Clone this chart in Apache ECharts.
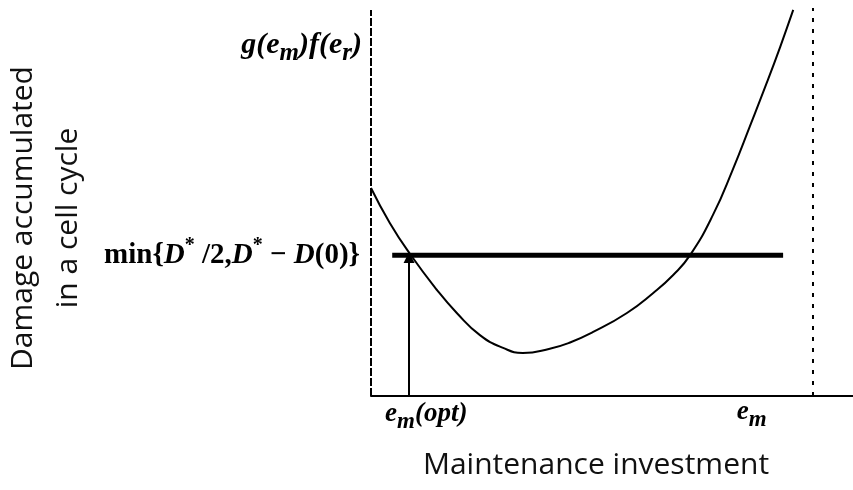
<!DOCTYPE html>
<html lang="en">
<head>
    <meta charset="UTF-8">
    <title>Maintenance investment</title>
    <script src="https://cdn.jsdelivr.net/npm/echarts@6/dist/echarts.min.js"></script>
    <style>
        body { margin: 0; background: #fff; }
        #chart { width: 853px; height: 490px; }
    </style>
</head>
<body>
    <div id="chart"></div>
    <script>
        // damage curve (x = maintenance investment, y = damage)
        const curveX = [0, 0.39, 0.81, 1.37, 1.78, 2.26, 2.74, 3.15, 3.71, 4.13, 4.61, 5.31, 5.85, 6.27, 6.62, 7.10, 7.51, 7.86, 8.22, 8.49, 8.76];
        const curveY = [5.36, 4.46, 3.66, 2.73, 2.14, 1.57, 1.24, 1.11, 1.22, 1.38, 1.65, 2.14, 2.65, 3.12, 3.63, 4.68, 5.85, 6.95, 8.10, 9.00, 9.95];

        // threshold min{D*/2, D*-D(0)}
        const thresholdY = 3.63;
        const thresholdX = [0.44, 8.55];

        // optimum and limit of maintenance
        const optX = 0.79;
        const limitX = 9.17;
        const emTickX = 7.9;
        const gTopY = 9.05;

        const chart = echarts.init(document.getElementById('chart'));

        const black = '#000';
        const serif = 'Liberation Serif';

        chart.setOption({
            animation: false,
            grid: { left: 371, right: 0, top: 8, bottom: 94 },
            xAxis: {
                type: 'value', min: 0, max: 10,
                axisLine: { show: true, lineStyle: { color: black, width: 2 } },
                axisTick: { show: false },
                axisLabel: { show: false },
                splitLine: { show: false }
            },
            yAxis: {
                type: 'value', min: 0, max: 10,
                axisLine: { show: false },
                axisTick: { show: false },
                axisLabel: { show: false },
                splitLine: { show: false }
            },
            series: [
                {
                    // left dashed border
                    type: 'line', clip: false, symbol: 'none',
                    data: [[0, 0], [0, 9.95]],
                    lineStyle: { color: black, width: 2, type: [8, 2] }
                },
                {
                    // dotted limit on the right
                    type: 'line', clip: false, symbol: 'none',
                    data: [[limitX, 0], [limitX, 10]],
                    lineStyle: { color: black, width: 2, type: [4, 7] }
                },
                {
                    type: 'line', clip: false, symbol: 'none', smooth: 0.5,
                    data: curveX.map((x, i) => [x, curveY[i]]),
                    lineStyle: { color: black, width: 2 }
                },
                {
                    type: 'line', clip: false, symbol: 'none',
                    data: thresholdX.map(x => [x, thresholdY]),
                    lineStyle: { color: black, width: 5 }
                },
                {
                    type: 'lines', coordinateSystem: 'cartesian2d',
                    symbol: ['none', 'triangle'], symbolSize: 11,
                    data: [{ coords: [[optX, 0], [optX, thresholdY - 0.06]] }],
                    lineStyle: { color: black, width: 2, opacity: 1 }
                }
            ]
        });

        const at = (x, y) => chart.convertToPixel({ gridIndex: 0 }, [x, y]);

        const bi = { fontFamily: serif, fontWeight: 'bold', fontStyle: 'italic', fill: black };
        const rich = {
            i: Object.assign({ fontSize: 27 }, bi),
            s: Object.assign({ fontSize: 23, padding: [16, 0, 0, 0] }, bi),
            gi: Object.assign({ fontSize: 30 }, bi),
            gs: Object.assign({ fontSize: 25, padding: [18, 0, 0, 0] }, bi),
            r: { fontFamily: serif, fontWeight: 'bold', fontSize: 29, fill: black },
            d: Object.assign({ fontSize: 29 }, bi),
            p: { fontFamily: serif, fontWeight: 'bold', fontSize: 20, fill: black, padding: [0, 0, 18, 0] }
        };

        const gPos = at(0, gTopY);
        const minPos = at(0, thresholdY);
        const optPos = at(optX, 0);
        const emPos = at(emTickX, 0);

        chart.setOption({
            graphic: [
                {
                    type: 'text', x: gPos[0] - 9, y: gPos[1],
                    style: { text: '{gi|g(e}{gs|m}{gi|)f(e}{gs|r}{gi|)}', rich: rich, align: 'right', verticalAlign: 'middle' }
                },
                {
                    type: 'text', x: minPos[0] - 11, y: minPos[1],
                    style: {
                        text: '{r|min{}{d|D}{p|*}{r| /2,}{d|D}{p|*}{r| − }{d|D}{r|(0)}}',
                        fontFamily: serif, fontWeight: 'bold', fontSize: 29, fill: black,
                        rich: rich, align: 'right', verticalAlign: 'middle'
                    }
                },
                {
                    type: 'text', x: optPos[0] - 24, y: optPos[1] + 18,
                    style: { text: '{i|e}{s|m}{i|(opt)}', rich: rich, align: 'left', verticalAlign: 'middle' }
                },
                {
                    type: 'text', x: emPos[0], y: emPos[1] + 16,
                    style: { text: '{i|e}{s|m}', rich: rich, align: 'center', verticalAlign: 'middle' }
                },
                {
                    type: 'text', x: 596, y: 465,
                    style: { text: 'Maintenance investment', fontFamily: 'Open Sans', fontSize: 30, fill: '#111', align: 'center', verticalAlign: 'middle' }
                },
                {
                    type: 'text', x: 46, y: 218, rotation: Math.PI / 2,
                    style: {
                        text: 'Damage accumulated\nin a cell cycle', fontFamily: 'Open Sans', fontSize: 30,
                        lineHeight: 45, fill: '#111', align: 'center', verticalAlign: 'middle'
                    }
                }
            ]
        });
    </script>
</body>
</html>
